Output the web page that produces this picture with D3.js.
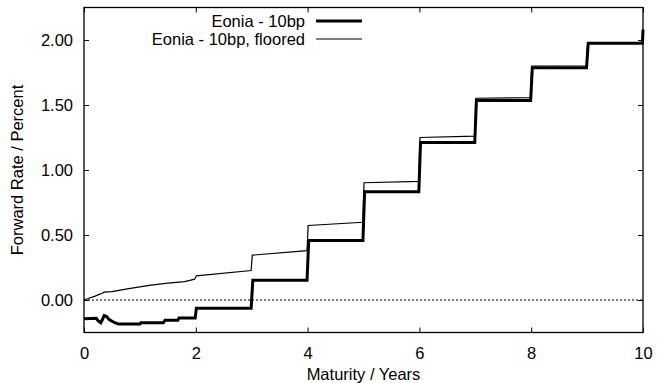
<!DOCTYPE html>
<html><head><meta charset="utf-8">
<script src="https://cdn.jsdelivr.net/npm/d3@7"></script>
<style>body{margin:0;background:#fff}svg{display:block}text{font-family:"Liberation Sans",Arial,sans-serif;fill:#000}</style>
</head><body><svg id="c" width="657" height="383"></svg>
<script>
const xTicks = [0, 2, 4, 6, 8, 10];
const yTicks = [0, 0.5, 1.0, 1.5, 2.0];
const seriesNames = ["Eonia - 10bp", "Eonia - 10bp, floored"];
const eoniaT = [0, 0.22, 0.25, 0.30, 0.33, 0.36, 0.40, 0.45, 0.55, 0.62, 1.0, 1.02, 1.42, 1.45, 1.68, 1.70, 1.99, 2.01, 2.99, 3.02, 3.99, 4.02, 4.99, 5.02, 5.99, 6.02, 6.99, 7.02, 7.99, 8.02, 8.99, 9.02, 9.99, 10.0];
const eoniaV = [-0.145, -0.14, -0.16, -0.175, -0.15, -0.12, -0.125, -0.15, -0.175, -0.185, -0.185, -0.175, -0.175, -0.155, -0.155, -0.138, -0.138, -0.063, -0.063, 0.152, 0.152, 0.458, 0.458, 0.832, 0.832, 1.212, 1.212, 1.535, 1.535, 1.787, 1.787, 1.975, 1.975, 2.08];
const flooredT = [0, 0.1, 0.2, 0.28, 0.32, 0.36, 0.5, 0.8, 1.2, 1.5, 1.8, 1.98, 2.01, 2.99, 3.01, 3.99, 4.01, 4.99, 5.01, 5.99, 6.01, 6.99, 7.01, 7.99, 8.01, 8.99, 9.01, 9.99, 10.0];
const flooredV = [0.0, 0.015, 0.03, 0.045, 0.05, 0.06, 0.065, 0.088, 0.115, 0.13, 0.142, 0.16, 0.186, 0.227, 0.345, 0.38, 0.573, 0.598, 0.902, 0.912, 1.25, 1.26, 1.552, 1.556, 1.80, 1.802, 1.98, 1.98, 2.08];

const svg = d3.select("#c");
const L = 84, R = 643, T = 7.5, B = 332.5;
const x = d3.scaleLinear().domain([0, 10]).range([L, R]);
const y = d3.scaleLinear().domain([-0.25, 2.25]).range([B, T]);
const FS = "16.5px";

// zero line
svg.append("line").attr("x1", L).attr("x2", R).attr("y1", y(0)).attr("y2", y(0))
  .attr("stroke", "#000").attr("stroke-width", 1).attr("stroke-dasharray", "2,2");

// axes with inward ticks on all sides
const tl = 5;
const gx = svg.append("g").attr("transform", `translate(0,${B})`)
  .call(d3.axisBottom(x).tickValues(xTicks).tickSize(-tl).tickPadding(15).tickFormat(d3.format("d")));
const gxt = svg.append("g").attr("transform", `translate(0,${T})`)
  .call(d3.axisTop(x).tickValues(xTicks).tickSize(-tl).tickFormat(""));
const gy = svg.append("g").attr("transform", `translate(${L},0)`)
  .call(d3.axisLeft(y).tickValues(yTicks).tickSize(-tl).tickPadding(11).tickFormat(d3.format(".2f")));
const gyr = svg.append("g").attr("transform", `translate(${R},0)`)
  .call(d3.axisRight(y).tickValues(yTicks).tickSize(-tl).tickFormat(""));
[gx, gxt, gy, gyr].forEach(g => {
  g.select(".domain").remove();
  g.selectAll(".tick line").attr("stroke", "#000").attr("stroke-width", 1);
  g.selectAll("text").style("font-size", FS).attr("fill", "#000");
});
gy.selectAll("text").attr("dy", "0.35em");

// frame
svg.append("rect").attr("x", L).attr("y", T).attr("width", R - L).attr("height", B - T)
  .attr("fill", "none").attr("stroke", "#000").attr("stroke-width", 1.3);

const line = d3.line().x(d => x(d[0])).y(d => y(d[1]));
const thin = d3.zip(flooredT, flooredV);
const thick = d3.zip(eoniaT, eoniaV);
svg.append("path").datum(thin).attr("d", line).attr("fill", "none").attr("stroke", "#000").attr("stroke-width", 1.2);
svg.append("path").datum(thick).attr("d", line).attr("fill", "none").attr("stroke", "#000").attr("stroke-width", 3);

// legend
const lg = [[seriesNames[0], 3, 21], [seriesNames[1], 1.2, 39]];
lg.forEach(([name, w, yy]) => {
  svg.append("text").attr("x", 305).attr("y", yy).attr("dy", "0.35em").attr("text-anchor", "end").style("font-size", FS).text(name);
  svg.append("line").attr("x1", 316).attr("x2", 362).attr("y1", yy).attr("y2", yy).attr("stroke", "#000").attr("stroke-width", w);
});

// axis titles
svg.append("text").attr("x", (L + R) / 2).attr("y", 374).attr("dy", "0.35em").attr("text-anchor", "middle").style("font-size", FS).text("Maturity / Years");
svg.append("text").attr("transform", `translate(17,${(T + B) / 2}) rotate(-90)`).attr("dy", "0.35em").attr("text-anchor", "middle").style("font-size", FS).text("Forward Rate / Percent");
</script></body></html>
